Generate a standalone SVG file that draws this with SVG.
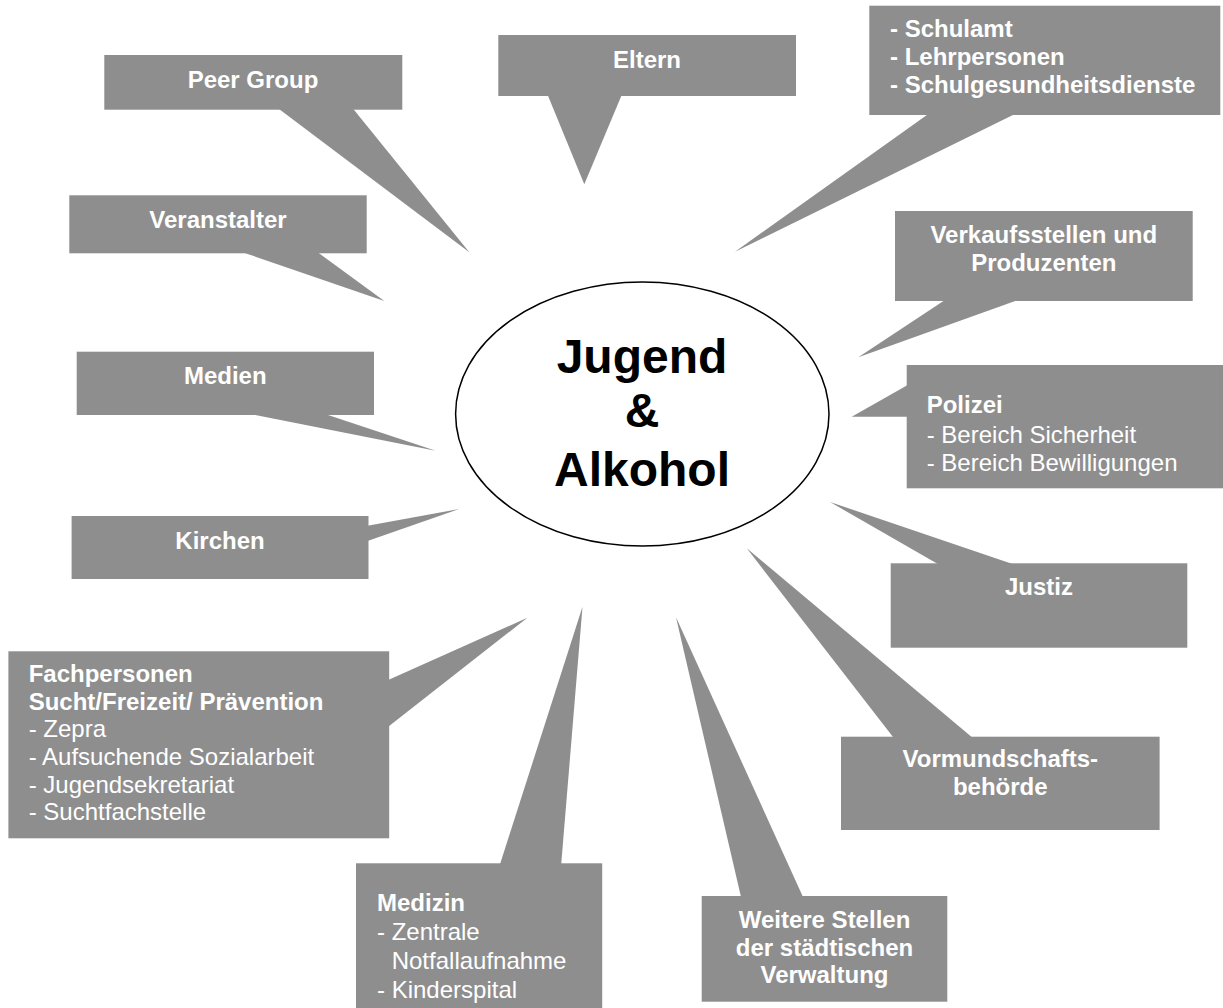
<svg xmlns="http://www.w3.org/2000/svg" width="1223" height="1008" viewBox="0 0 1223 1008">
<style>
.box{fill:#8e8e8e}
.ptr{fill:#8e8e8e}
.t{font-family:"Liberation Sans",Arial,sans-serif;font-size:24px;fill:#ffffff}
.b{font-weight:bold}
.c{text-anchor:middle}
.core{font-family:"Liberation Sans",Arial,sans-serif;font-size:48px;font-weight:bold;fill:#000000;text-anchor:middle}
</style>
<rect width="1223" height="1008" fill="#ffffff"/>
<g id="connectors">
<polygon class="ptr" points="279,109 353.3,109 469.3,252.3"/>
<polygon class="ptr" points="547.7,95 621.7,95 584.3,184.3"/>
<polygon class="ptr" points="928.3,114 1015,114 735,251.7"/>
<polygon class="ptr" points="242.7,252.3 317.7,252.3 384.3,301"/>
<polygon class="ptr" points="945,300 1018.3,300 858.3,357.3"/>
<polygon class="ptr" points="250.7,414 325,414 435.7,450.7"/>
<polygon class="ptr" points="907.7,385 907.7,416.7 851.7,416.7"/>
<polygon class="ptr" points="367.5,525.7 367.5,541 459.2,509"/>
<polygon class="ptr" points="938.3,564.3 1013.3,564.3 830,502"/>
<polygon class="ptr" points="388.2,680 388.2,726.7 527.4,617.7"/>
<polygon class="ptr" points="893.6,737.7 972.6,737.7 746.8,548.3"/>
<polygon class="ptr" points="500,864.3 561.2,864.3 582.5,606.7"/>
<polygon class="ptr" points="741,897 803,897 676,617.3"/>
</g>
<g id="center">
<ellipse cx="642.3" cy="414" rx="186.7" ry="132" fill="#ffffff" stroke="#000000" stroke-width="1.5"/>
<text class="core" x="642" y="373.3">Jugend</text>
<text class="core" x="642" y="427.3">&amp;</text>
<text class="core" x="642" y="486">Alkohol</text>
</g>
<g id="peer-group">
<rect class="box" x="104.3" y="55" width="298" height="54.7"/>
<text class="t b c" x="253" y="88">Peer Group</text>
</g>
<g id="eltern">
<rect class="box" x="498.3" y="35" width="297.7" height="61"/>
<text class="t b c" x="647" y="68.3">Eltern</text>
</g>
<g id="schule">
<rect class="box" x="869.3" y="5.7" width="351" height="109.3"/>
<text class="t b" x="890" y="37.3">- Schulamt</text>
<text class="t b" x="890" y="65">- Lehrpersonen</text>
<text class="t b" x="890" y="93.3">- Schulgesundheitsdienste</text>
</g>
<g id="veranstalter">
<rect class="box" x="69.3" y="195.3" width="297.4" height="58"/>
<text class="t b c" x="218" y="228.3">Veranstalter</text>
</g>
<g id="verkaufsstellen">
<rect class="box" x="895" y="211" width="297.7" height="90"/>
<text class="t b c" x="1043.8" y="243.3">Verkaufsstellen und</text>
<text class="t b c" x="1043.8" y="270.7">Produzenten</text>
</g>
<g id="medien">
<rect class="box" x="76.7" y="351.7" width="297.3" height="63.3"/>
<text class="t b c" x="225.3" y="384">Medien</text>
</g>
<g id="polizei">
<rect class="box" x="906.7" y="365" width="316.3" height="123.3"/>
<text class="t b" x="926.7" y="412.7">Polizei</text>
<text class="t" x="926.7" y="442.7">- Bereich Sicherheit</text>
<text class="t" x="926.7" y="471">- Bereich Bewilligungen</text>
</g>
<g id="kirchen">
<rect class="box" x="71.6" y="516" width="296.9" height="63"/>
<text class="t b c" x="220" y="549">Kirchen</text>
</g>
<g id="justiz">
<rect class="box" x="890.7" y="563.3" width="296.6" height="84.4"/>
<text class="t b c" x="1039" y="595">Justiz</text>
</g>
<g id="fachpersonen">
<rect class="box" x="8.4" y="651.3" width="380.8" height="187"/>
<text class="t b" x="28.7" y="681.7">Fachpersonen</text>
<text class="t b" x="28.7" y="710">Sucht/Freizeit/ Prävention</text>
<text class="t" x="28.7" y="736.7">- Zepra</text>
<text class="t" x="28.7" y="765">- Aufsuchende Sozialarbeit</text>
<text class="t" x="28.7" y="793.3">- Jugendsekretariat</text>
<text class="t" x="28.7" y="820">- Suchtfachstelle</text>
</g>
<g id="vormundschaft">
<rect class="box" x="841" y="736.7" width="318.6" height="93.3"/>
<text class="t b c" x="1000.3" y="766.7">Vormundschafts-</text>
<text class="t b c" x="1000.3" y="795">behörde</text>
</g>
<g id="medizin">
<rect class="box" x="356" y="863.3" width="246.2" height="144.7"/>
<text class="t b" x="377" y="911">Medizin</text>
<text class="t" x="377" y="940">- Zentrale</text>
<text class="t" x="391.7" y="969.3">Notfallaufnahme</text>
<text class="t" x="377" y="998.3">- Kinderspital</text>
</g>
<g id="weitere-stellen">
<rect class="box" x="701.7" y="896" width="245.6" height="105.7"/>
<text class="t b c" x="824.5" y="928.3">Weitere Stellen</text>
<text class="t b c" x="824.5" y="955.5">der städtischen</text>
<text class="t b c" x="824.5" y="983.3">Verwaltung</text>
</g>
</svg>
